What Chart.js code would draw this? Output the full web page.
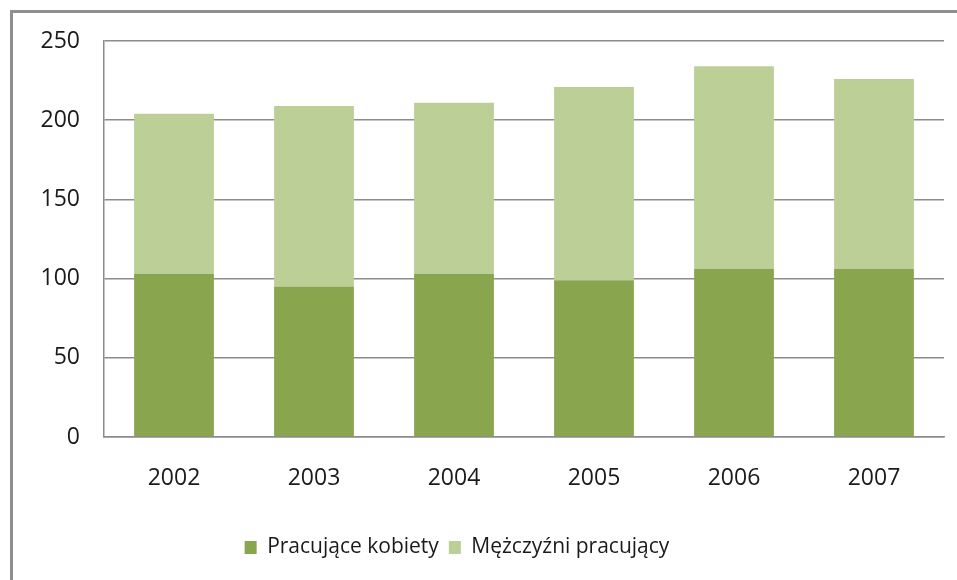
<!DOCTYPE html>
<html>
<head>
<meta charset="utf-8">
<script src="https://cdn.jsdelivr.net/npm/chart.js@4.4.0/dist/chart.umd.min.js"></script>
<style>
  html, body { margin: 0; padding: 0; background: #fff; overflow: hidden; }
  #wrap { position: relative; width: 957px; height: 580px; }
  #frame { position: absolute; left: 10px; top: 10px; width: 1000px; height: 600px;
           border-left: 3px solid #8e8e8e; border-top: 3px solid #8e8e8e; pointer-events: none; }
  canvas { position: absolute; left: 0; top: 0; }
</style>
</head>
<body>
<div id="wrap">
  <canvas id="chart" width="957" height="580"></canvas>
  <div id="frame"></div>
</div>
<script>
const years = ['2002', '2003', '2004', '2005', '2006', '2007'];
const women = [103, 95, 103, 99, 106, 106];
const men = [101, 114, 108, 122, 128, 120];
const yTicks = [0, 50, 100, 150, 200, 250];

const gridColor = '#8c8c8c';
const tickFont = { family: "'Open Sans', 'Noto Sans', sans-serif", size: 23 };
const legendFont = { family: "'Open Sans', 'Noto Sans', sans-serif", size: 21 };

// move the legend a bit left, like the original
const shiftLegend = {
  id: 'shiftLegend',
  afterLayout(chart) {
    chart.legend.left -= 15;
    chart.legend.right -= 15;
  }
};

const ctx = document.getElementById('chart').getContext('2d');
new Chart(ctx, {
  type: 'bar',
  data: {
    labels: years,
    datasets: [
      { label: 'Pracujące kobiety', data: women, backgroundColor: '#89a54e' },
      { label: 'Mężczyźni pracujący', data: men, backgroundColor: '#bbcf97' }
    ]
  },
  options: {
    responsive: false,
    animation: false,
    layout: { padding: { left: 0, right: 13, top: 41, bottom: 12 } },
    datasets: { bar: { categoryPercentage: 1, barPercentage: 0.57 } },
    plugins: {
      tooltip: { enabled: false },
      legend: {
        position: 'bottom',
        labels: { boxWidth: 12, boxHeight: 13, padding: 10, color: '#1a1a1a', font: legendFont }
      }
    },
    scales: {
      x: {
        stacked: true,
        grid: { display: false, drawTicks: false },
        border: { display: true, color: gridColor, width: 1.5 },
        ticks: { color: '#1a1a1a', font: tickFont, padding: 28 },
        afterFit(scale) { scale.height = 90; }
      },
      y: {
        stacked: true,
        min: 0,
        max: 250,
        afterBuildTicks(scale) { scale.ticks = yTicks.map(v => ({ value: v })); },
        grid: { color: gridColor, lineWidth: 1.5, drawTicks: false },
        border: { display: true, color: gridColor, width: 1.5 },
        ticks: { color: '#1a1a1a', font: tickFont, padding: 24 },
        afterFit(scale) { scale.width = 104; }
      }
    }
  },
  plugins: [shiftLegend]
});
</script>
</body>
</html>
